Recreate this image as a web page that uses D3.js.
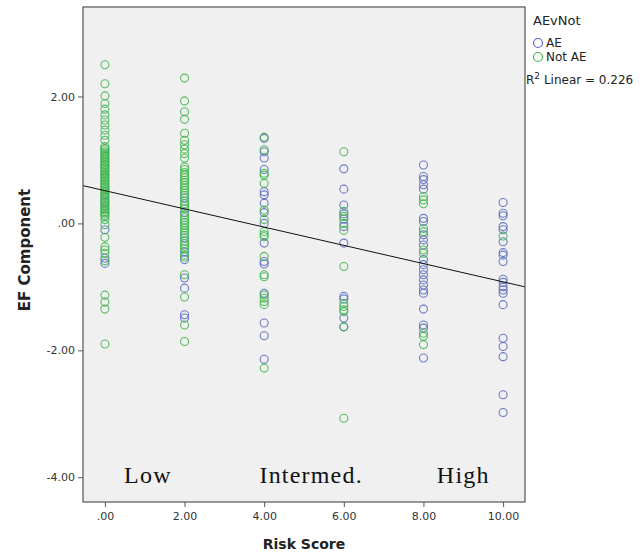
<!DOCTYPE html>
<html lang="en">
<head>
<meta charset="UTF-8" />
<title>EF Component by Risk Score</title>
<script src="https://d3js.org/d3.v7.min.js"></script>
<style>
  body { margin: 0; background: #fff; }
  svg { display: block; }
  .tick text { font-family: "DejaVu Sans", sans-serif; font-size: 11px; fill: #333; }
  .axis-title { font-family: "DejaVu Sans", sans-serif; font-size: 14px; font-weight: bold; fill: #222; }
  .legend { font-family: "DejaVu Sans", sans-serif; font-size: 12px; fill: #222; }
  .band { font-family: "Liberation Serif", serif; font-size: 24px; letter-spacing: 1.2px; fill: #111; }
</style>
</head>
<body>
<svg width="642" height="554"></svg>
<script>
  // points: [risk score, EF component]
  const aePoints = [
    [0, 0.35], [0, -0.10], [0, -0.55], [0, -0.63],
    [2, 0.40], [2, 0.17], [2, -0.23], [2, -0.45], [2, -0.57], [2, -0.86], [2, -1.02], [2, -1.44], [2, -1.49],
    [4, 1.34], [4, 1.13], [4, 1.03], [4, 0.85], [4, 0.50], [4, 0.45], [4, 0.32], [4, 0.17], [4, 0.00],
    [4, -0.31], [4, -0.60], [4, -0.64], [4, -1.10], [4, -1.57], [4, -1.77], [4, -2.14],
    [6, 0.86], [6, 0.54], [6, 0.29], [6, 0.15], [6, 0.07], [6, -0.05], [6, -0.31], [6, -1.15], [6, -1.19],
    [6, -1.49], [6, -1.63],
    [8, 0.92], [8, 0.74], [8, 0.69], [8, 0.61], [8, 0.54], [8, 0.08], [8, 0.03], [8, -0.18], [8, -0.26],
    [8, -0.34], [8, -0.57], [8, -0.65], [8, -0.73], [8, -0.81], [8, -0.89], [8, -0.97], [8, -1.05],
    [8, -1.10], [8, -1.35], [8, -1.60], [8, -1.65], [8, -2.12],
    [10, 0.33], [10, 0.16], [10, 0.12], [10, -0.05], [10, -0.10], [10, -0.29], [10, -0.46], [10, -0.50],
    [10, -0.60], [10, -0.88], [10, -0.93], [10, -1.00], [10, -1.05], [10, -1.10], [10, -1.28], [10, -1.81],
    [10, -1.94], [10, -2.10], [10, -2.70], [10, -2.98]
  ];

  const notAePoints = [
    [0, 2.50], [0, 2.20], [0, 2.01], [0, 1.89], [0, 1.80], [0, 1.71], [0, 1.63], [0, 1.55], [0, 1.47],
    [0, 1.39], [0, 1.31], [0, 1.21], [0, 1.18], [0, 1.16], [0, 1.13], [0, 1.11], [0, 1.08], [0, 1.06],
    [0, 1.03], [0, 1.01], [0, 0.98], [0, 0.96], [0, 0.93], [0, 0.91], [0, 0.88], [0, 0.86], [0, 0.83],
    [0, 0.81], [0, 0.78], [0, 0.76], [0, 0.73], [0, 0.71], [0, 0.68], [0, 0.66], [0, 0.63], [0, 0.61],
    [0, 0.58], [0, 0.56], [0, 0.53], [0, 0.51], [0, 0.48], [0, 0.46], [0, 0.43], [0, 0.41], [0, 0.38],
    [0, 0.33], [0, 0.31], [0, 0.28], [0, 0.26], [0, 0.23], [0, 0.21], [0, 0.18], [0, 0.16], [0, 0.13],
    [0, 0.11], [0, 0.06], [0, -0.02], [0, -0.22], [0, -0.37], [0, -0.42], [0, -0.47], [0, -0.59],
    [0, -1.13], [0, -1.24], [0, -1.35], [0, -1.90],
    [2, 2.29], [2, 1.93], [2, 1.76], [2, 1.64], [2, 1.42], [2, 1.31], [2, 1.24], [2, 1.17], [2, 1.10],
    [2, 1.03], [2, 0.89], [2, 0.85], [2, 0.80], [2, 0.76], [2, 0.72], [2, 0.68], [2, 0.64], [2, 0.60],
    [2, 0.56], [2, 0.52], [2, 0.48], [2, 0.44], [2, 0.35], [2, 0.31], [2, 0.27], [2, 0.23], [2, 0.13],
    [2, 0.09], [2, 0.05], [2, 0.01], [2, -0.03], [2, -0.07], [2, -0.11], [2, -0.15], [2, -0.19],
    [2, -0.28], [2, -0.32], [2, -0.36], [2, -0.40], [2, -0.50], [2, -0.53], [2, -0.81], [2, -1.16],
    [2, -1.60], [2, -1.86],
    [4, 1.36], [4, 1.16], [4, 0.79], [4, 0.76], [4, 0.63], [4, 0.21], [4, 0.06], [4, -0.13], [4, -0.18],
    [4, -0.21], [4, -0.52], [4, -0.81], [4, -0.84], [4, -1.13], [4, -1.18], [4, -1.23], [4, -1.28],
    [4, -2.28],
    [6, 1.13], [6, 0.19], [6, 0.11], [6, 0.00], [6, -0.11], [6, -0.68], [6, -1.26], [6, -1.31],
    [6, -1.36], [6, -1.39], [6, -1.63], [6, -3.07],
    [8, 0.42], [8, 0.37], [8, 0.31], [8, -0.08], [8, -0.13], [8, -0.42], [8, -0.47], [8, -1.73],
    [8, -1.78], [8, -1.91],
    [10, -0.20]
  ];

  const xTicks = [0, 2, 4, 6, 8, 10];
  const yTicks = [2, 0, -2, -4];
  const fitLine = { intercept: 0.516, slope: -0.1437, r2: 0.226 };
  const bandLabels = [["Low", 1.08], ["Intermed.", 5.18], ["High", 9.0]];

  const svg = d3.select("svg");
  const plotLeft = 83, plotRight = 525, plotTop = 7, plotBottom = 502;

  const x = d3.scaleLinear().domain([-0.55, 10.55]).range([plotLeft, plotRight]);
  const y = d3.scaleLinear().domain([-4.39, 3.41]).range([plotBottom, plotTop]);

  // SPSS style: ".00", "2.00", "-2.00"
  const fmt = v => v === 0 ? ".00" : v.toFixed(2);

  // plot area
  svg.append("rect")
    .attr("x", plotLeft).attr("y", plotTop)
    .attr("width", plotRight - plotLeft).attr("height", plotBottom - plotTop)
    .attr("fill", "#f0f0f0");

  svg.append("clipPath").attr("id", "plot")
    .append("rect")
    .attr("x", plotLeft).attr("y", plotTop)
    .attr("width", plotRight - plotLeft).attr("height", plotBottom - plotTop);

  const plot = svg.append("g").attr("clip-path", "url(#plot)");

  // band annotations
  plot.selectAll(".band")
    .data(bandLabels)
    .enter().append("text")
    .attr("class", "band")
    .attr("x", d => x(d[1]))
    .attr("y", y(-4.09))
    .attr("text-anchor", "middle")
    .text(d => d[0]);

  // points
  plot.selectAll(".ae")
    .data(aePoints)
    .enter().append("circle")
    .attr("cx", d => x(d[0])).attr("cy", d => y(d[1]))
    .attr("r", 4)
    .attr("fill", "none")
    .attr("stroke", "#5466bd")
    .attr("stroke-opacity", 0.85)
    .attr("stroke-width", 1.1);

  plot.selectAll(".notae")
    .data(notAePoints)
    .enter().append("circle")
    .attr("cx", d => x(d[0])).attr("cy", d => y(d[1]))
    .attr("r", 4)
    .attr("fill", "none")
    .attr("stroke", "#3cb44a")
    .attr("stroke-opacity", 0.85)
    .attr("stroke-width", 1.1);

  // linear fit
  const xd = x.domain();
  plot.append("line")
    .attr("x1", x(xd[0])).attr("y1", y(fitLine.intercept + fitLine.slope * xd[0]))
    .attr("x2", x(xd[1])).attr("y2", y(fitLine.intercept + fitLine.slope * xd[1]))
    .attr("stroke", "#111")
    .attr("stroke-width", 1);

  // frame
  svg.append("rect")
    .attr("x", plotLeft).attr("y", plotTop)
    .attr("width", plotRight - plotLeft).attr("height", plotBottom - plotTop)
    .attr("fill", "none")
    .attr("stroke", "#555")
    .attr("stroke-width", 1.2);

  // axes
  const xAxis = svg.append("g")
    .attr("transform", `translate(0,${plotBottom})`)
    .call(d3.axisBottom(x).tickValues(xTicks).tickFormat(fmt).tickSize(5).tickPadding(5));
  const yAxis = svg.append("g")
    .attr("transform", `translate(${plotLeft},0)`)
    .call(d3.axisLeft(y).tickValues(yTicks).tickFormat(fmt).tickSize(5).tickPadding(3));
  [xAxis, yAxis].forEach(a => {
    a.select(".domain").remove();
    a.selectAll(".tick line").attr("stroke", "#555");
  });

  svg.append("text")
    .attr("class", "axis-title")
    .attr("x", (plotLeft + plotRight) / 2)
    .attr("y", 549)
    .attr("text-anchor", "middle")
    .text("Risk Score");

  svg.append("text")
    .attr("class", "axis-title")
    .style("font-size", "15px")
    .attr("transform", `translate(30,250) rotate(-90)`)
    .attr("text-anchor", "middle")
    .text("EF Component");

  // legend
  const legend = svg.append("g").attr("class", "legend");
  legend.append("text").attr("x", 533).attr("y", 25).style("font-size", "13px").text("AEvNot");
  const items = [["AE", "#5466bd"], ["Not AE", "#3cb44a"]];
  items.forEach((it, i) => {
    legend.append("circle")
      .attr("cx", 538).attr("cy", 43 + i * 14).attr("r", 4.5)
      .attr("fill", "none").attr("stroke", it[1]).attr("stroke-width", 1.2);
    legend.append("text")
      .attr("x", 546).attr("y", 47 + i * 14)
      .text(it[0]);
  });
  const r2 = legend.append("text").attr("x", 526).attr("y", 84);
  r2.append("tspan").text("R");
  r2.append("tspan").attr("dy", -5).style("font-size", "9px").text("2");
  r2.append("tspan").attr("dy", 5).text(" Linear = " + fitLine.r2.toFixed(3));
</script>
</body>
</html>
